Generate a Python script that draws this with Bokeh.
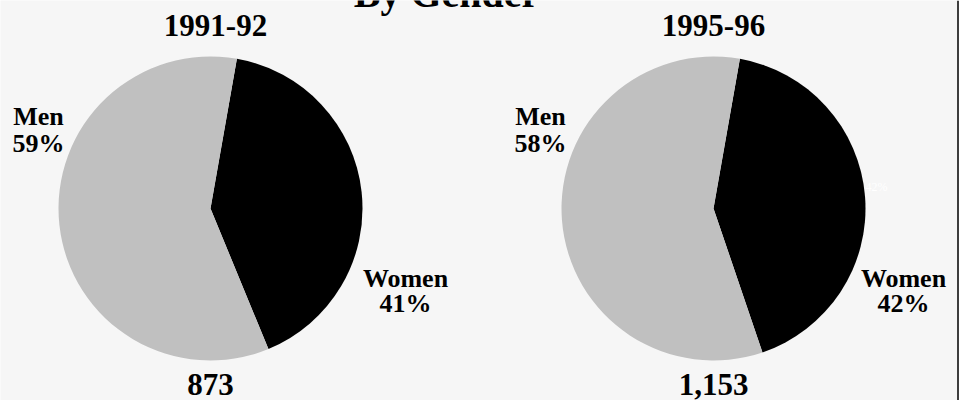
import numpy as np
from bokeh.plotting import figure
from bokeh.models import ColumnDataSource, Span
from bokeh.core.properties import value
from bokeh.embed import file_html
from bokeh.resources import INLINE

# ---- data ----
title = "By Gender"
years = ["1991-92", "1995-96"]
totals = [873, 1153]
categories = ["Women", "Men"]
women_pct = [41, 42]
men_pct = [59, 58]
colors = ["#000000", "#c0c0c0"]

# ---- layout (reference pixel coordinates, y measured downward) ----
W, H = 959, 400
TEXT_SHIFT = 11  # compensates SVG baseline placement
def up(y):
    return H - y

BG = "#f6f6f6"
FONT = value("Liberation Serif")
centers_x = [210, 713]
center_y = 208
radius = 152
start_offset_deg = 10  # first slice starts 10 deg clockwise from 12 o'clock

p = figure(width=W, height=H, x_range=(0, W), y_range=(0, H),
           output_backend="svg", toolbar_location=None, min_border=0)
p.axis.visible = False
p.grid.visible = False
p.outline_line_color = None
p.background_fill_color = BG
p.border_fill_color = BG

# wedges
wx, wy, ws, we, wc = [], [], [], [], []
for i in range(len(years)):
    vals = np.array([women_pct[i], men_pct[i]], dtype=float)
    fr = vals / vals.sum()
    start = np.deg2rad(90 - start_offset_deg)
    cum = start - np.concatenate([[0], np.cumsum(fr)]) * 2 * np.pi
    for k in range(len(vals)):
        wx.append(centers_x[i]); wy.append(up(center_y))
        ws.append(cum[k]); we.append(cum[k + 1]); wc.append(colors[k])
src = ColumnDataSource(dict(x=wx, y=wy, s=ws, e=we, c=wc))
p.wedge(x="x", y="y", radius=radius, start_angle="s", end_angle="e",
        direction="clock", fill_color="c", line_color=None, source=src)

def txt(x, y, t, size, color="black", style="bold"):
    p.text(x=[x], y=[up(y - TEXT_SHIFT)], text=[t], text_font=FONT,
           text_font_style=style, text_font_size=size, text_color=color,
           text_align="center", text_baseline="alphabetic")

# title (partially cut off at the top, as in the reference)
txt(446, 4, title, "40px")

year_x = [215, 713]
men_x = [38, 540]
women_x = [405, 903]
for i in range(len(years)):
    txt(year_x[i], 36, years[i], "31px")
    txt(centers_x[i], 395, f"{totals[i]:,}", "31px")
    txt(men_x[i], 127, categories[1], "26px")
    txt(men_x[i], 154, f"{men_pct[i]}%", "26px")
    txt(women_x[i], 289, categories[0], "26px")
    txt(women_x[i], 314, f"{women_pct[i]}%", "26px")

# faint stray white label inside the second pie
txt(876, 197, f"{women_pct[1]}%", "12px", color="white", style="normal")

# right frame edge
p.add_layout(Span(location=957.5, dimension="height", line_color="black", line_width=1.5))

open("out.html", "w").write(file_html(p, INLINE))
